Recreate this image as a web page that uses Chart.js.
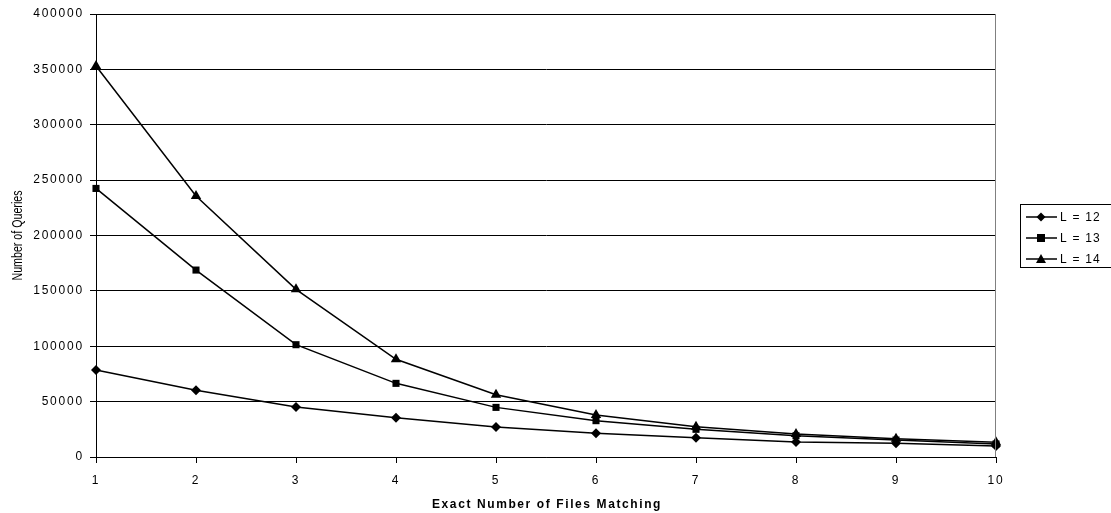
<!DOCTYPE html>
<html>
<head>
<meta charset="utf-8">
<script src="https://cdn.jsdelivr.net/npm/chart.js@4.4.0/dist/chart.umd.min.js"></script>
<style>
  html, body { margin: 0; padding: 0; background: #fff; }
  #wrap { width: 1111px; height: 513px; position: relative; }
</style>
</head>
<body>
<div id="wrap"><canvas id="chart" width="1111" height="513"></canvas></div>
<script>
const filesMatching = ['1', '2', '3', '4', '5', '6', '7', '8', '9', '10'];
const seriesNames = ['L = 12', 'L = 13', 'L = 14'];
const queriesL12 = [78500, 60200, 45100, 35500, 27100, 21400, 17400, 13500, 12400, 9900];
const queriesL13 = [242500, 168800, 101400, 66500, 44800, 32800, 25000, 19200, 15300, 11700];
const queriesL14 = [353000, 235600, 151400, 88200, 56200, 37900, 27400, 20800, 16500, 13300];
const yTicks = [0, 50000, 100000, 150000, 200000, 250000, 300000, 350000, 400000];

const font = "'Liberation Sans', Arial, sans-serif";

function drawMarker(ctx, style, x, y) {
  ctx.beginPath();
  if (style === 'rectRot') {
    ctx.moveTo(x, y - 4.5); ctx.lineTo(x + 4.5, y); ctx.lineTo(x, y + 4.5); ctx.lineTo(x - 4.5, y);
  } else if (style === 'rect') {
    ctx.rect(x - 4, y - 4, 8, 8);
  } else {
    ctx.moveTo(x, y - 5); ctx.lineTo(x + 5, y + 4); ctx.lineTo(x - 5, y + 4);
  }
  ctx.closePath();
  ctx.fill();
}

// Excel-style wide spacing for the tick labels
const spacing = {
  id: 'spacing',
  beforeDraw(chart) {
    if ('letterSpacing' in chart.ctx) chart.ctx.letterSpacing = '1.8px';
  }
};

const extras = {
  id: 'extras',
  afterDraw(chart) {
    const ctx = chart.ctx;
    const a = chart.chartArea;
    ctx.save();
    // plot border top / right
    ctx.lineWidth = 1;
    ctx.strokeStyle = '#000';
    ctx.beginPath(); ctx.moveTo(a.left, a.top + 0.5); ctx.lineTo(a.right, a.top + 0.5); ctx.stroke();
    ctx.strokeStyle = '#808080';
    ctx.beginPath(); ctx.moveTo(a.right - 0.5, a.top); ctx.lineTo(a.right - 0.5, a.bottom); ctx.stroke();

    // axis titles
    ctx.fillStyle = '#000';
    ctx.textAlign = 'center';
    ctx.textBaseline = 'middle';
    ctx.font = "bold 12px " + font;
    if ('letterSpacing' in ctx) ctx.letterSpacing = '1.6px';
    ctx.fillText('Exact Number of Files Matching', (a.left + a.right) / 2 + 1, 505);
    if ('letterSpacing' in ctx) ctx.letterSpacing = '0px';

    // narrow y title: squeeze the face to ~90px long
    ctx.save();
    ctx.translate(18, (a.top + a.bottom) / 2);
    ctx.rotate(-Math.PI / 2);
    ctx.font = "14px " + font;
    const w = ctx.measureText('Number of Queries').width;
    ctx.scale(90 / w, 1);
    ctx.fillText('Number of Queries', 0, 0);
    ctx.restore();

    // legend
    const lx = 1020, ly = 204, lw = 100, lh = 63;
    ctx.strokeStyle = '#000';
    ctx.lineWidth = 1;
    ctx.strokeRect(lx + 0.5, ly + 0.5, lw, lh);
    ctx.font = "12px " + font;
    if ('letterSpacing' in ctx) ctx.letterSpacing = '1.2px';
    ctx.textAlign = 'left';
    chart.data.datasets.forEach((ds, i) => {
      const y = ly + 13 + i * 21;
      ctx.strokeStyle = '#000';
      ctx.lineWidth = 1.5;
      ctx.beginPath(); ctx.moveTo(lx + 6, y); ctx.lineTo(lx + 37, y); ctx.stroke();
      ctx.fillStyle = '#000';
      drawMarker(ctx, ds.pointStyle, lx + 21, y);
      ctx.fillText(ds.label, lx + 40, y + 1);
    });
    ctx.restore();
  }
};

const makeSet = (label, data, style, r) => ({
  label, data,
  borderColor: '#000', backgroundColor: '#000',
  borderWidth: 1.5,
  pointStyle: style, pointRadius: r, pointBorderWidth: 0,
  pointBackgroundColor: '#000',
  tension: 0
});

new Chart(document.getElementById('chart'), {
  type: 'line',
  data: {
    labels: filesMatching,
    datasets: [
      makeSet(seriesNames[0], queriesL12, 'rectRot', 5),
      makeSet(seriesNames[1], queriesL13, 'rect', 5),
      makeSet(seriesNames[2], queriesL14, 'triangle', 6)
    ]
  },
  options: {
    responsive: false,
    animation: false,
    layout: { padding: { left: 0, top: 14, right: 115, bottom: 0 } },
    plugins: { legend: { display: false }, tooltip: { enabled: false } },
    scales: {
      x: {
        type: 'category',
        offset: false,
        grid: { drawOnChartArea: false, drawTicks: true, tickLength: 6, color: '#000' },
        border: { color: '#000', width: 1 },
        ticks: { color: '#000', font: { family: font, size: 12 }, padding: 10, maxRotation: 0 },
        afterFit(scale) { scale.height = 56; }
      },
      y: {
        min: 0, max: 400000,
        afterBuildTicks(scale) { scale.ticks = yTicks.map(v => ({ value: v })); },
        grid: { color: '#000', lineWidth: 1, tickLength: 6 },
        border: { color: '#000', width: 1 },
        ticks: { color: '#000', font: { family: font, size: 12 }, padding: 6, callback: v => String(v) },
        afterFit(scale) { scale.width = 96; }
      }
    }
  },
  plugins: [spacing, extras]
});
</script>
</body>
</html>
